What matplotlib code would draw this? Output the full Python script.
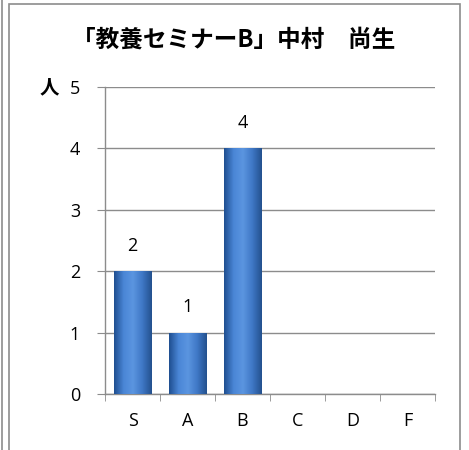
import numpy as np
import matplotlib
matplotlib.use("Agg")
import matplotlib.pyplot as plt
from matplotlib.patches import Rectangle
from matplotlib.colors import LinearSegmentedColormap

plt.rcParams['font.family'] = ['Noto Sans CJK JP', 'DejaVu Sans']

# Data
grades = ["S", "A", "B", "C", "D", "F"]
counts = [2, 1, 4, 0, 0, 0]
title = "「教養セミナーB」中村　尚生"

num_font = ["Open Sans", "DejaVu Sans"]

fig = plt.figure(figsize=(4.69, 4.5), dpi=100)
ax = fig.add_axes([0.2239, 0.1244, 0.7036, 0.6822])

# outer chart frame
fig.add_artist(Rectangle((9 / 469, -0.01), 451 / 469, 1 - 4 / 450 + 0.01,
                         transform=fig.transFigure, fill=False,
                         edgecolor="#8c8c8c", lw=1.2))
fig.add_artist(plt.Line2D([1.5 / 469, 1.5 / 469], [0, 1], transform=fig.transFigure,
                          color="#8c8c8c", lw=1.2))

x = np.arange(len(grades))
width = 0.69
bars = ax.bar(x, counts, width=width, color="#3a72c0", edgecolor="#2a5a9a",
              lw=0.6, zorder=3)

# horizontal gradient on each bar to mimic the shaded look
grad = np.linspace(0, 1, 64)
cmap = LinearSegmentedColormap.from_list("b", ["#1f4f91", "#4a86d6", "#5b95e0", "#3f78c6", "#24528f"])
for b, c in zip(bars, counts):
    if c <= 0:
        continue
    x0, w = b.get_x(), b.get_width()
    im = ax.imshow(grad[None, :], cmap=cmap, aspect="auto",
                   extent=[x0, x0 + w, 0, c], zorder=3.5)
    im.set_clip_path(b)
    ax.text(x0 + w / 2, c + 0.27, str(c), ha="center", va="bottom",
            fontsize=13, family=num_font)

ax.set_xlim(-0.5, len(grades) - 0.5)
ax.set_ylim(0, 5)
ax.set_yticks(range(6))
ax.set_xticks(x)
ax.set_xticklabels(grades, family=num_font)
ax.set_yticklabels([str(v) for v in range(6)], family=num_font)
ax.set_xticks(np.arange(-0.5, len(grades)), minor=True)
ax.tick_params(axis="both", labelsize=13)
ax.tick_params(axis="x", which="major", length=0, pad=13)
ax.tick_params(axis="x", which="minor", length=5, color="#8c8c8c", direction="out")
ax.tick_params(axis="y", length=6, color="#8c8c8c", pad=12)
ax.grid(axis="y", color="#8c8c8c", lw=1.0, zorder=0)
ax.set_axisbelow(True)
for s in ["top", "right"]:
    ax.spines[s].set_visible(False)
for s in ["left", "bottom"]:
    ax.spines[s].set_color("#8c8c8c")
    ax.spines[s].set_linewidth(1.0)

fig.text(49 / 469, 1 - 88 / 450, "人", ha="center", va="center",
         fontsize=14, fontweight="bold")
fig.text(234 / 469, 1 - 40 / 450, title, ha="center", va="center",
         fontsize=17, fontweight="bold")

fig.savefig("out.png", dpi=100)
